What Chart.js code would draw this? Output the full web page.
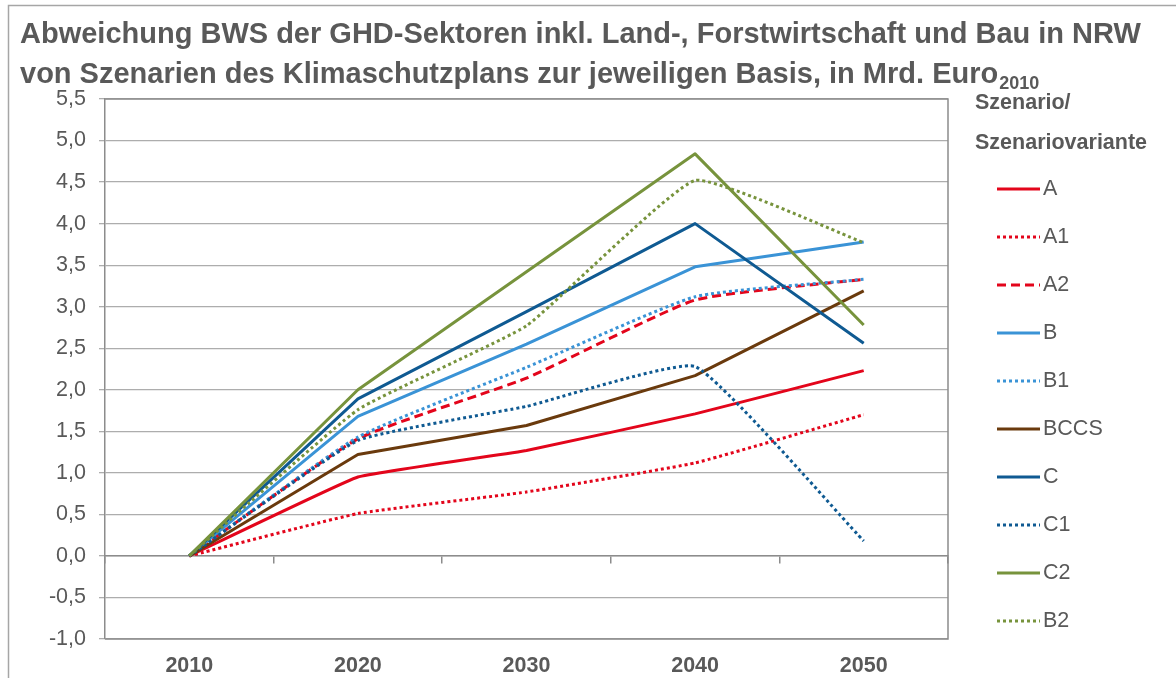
<!DOCTYPE html>
<html>
<head>
<meta charset="utf-8">
<script src="https://cdn.jsdelivr.net/npm/chart.js@4.4.1/dist/chart.umd.min.js"></script>
<style>
  html, body { margin: 0; padding: 0; background: #ffffff; }
  #wrap { width: 1176px; height: 678px; position: relative; }
  canvas { display: block; }
</style>
</head>
<body>
<div id="wrap"><canvas id="chart" width="1176" height="678"></canvas></div>
<script>
// ---- data -------------------------------------------------------------
const years = ['2010', '2020', '2030', '2040', '2050'];
const seriesNames = ['A', 'A1', 'A2', 'B', 'B1', 'BCCS', 'C', 'C1', 'C2', 'B2'];

const valuesA    = [0, 0.95, 1.27, 1.71, 2.23];
const valuesA1   = [0, 0.51, 0.77, 1.12, 1.70];
const valuesA2   = [0, 1.41, 2.14, 3.08, 3.33];
const valuesB    = [0, 1.68, 2.55, 3.48, 3.78];
const valuesB1   = [0, 1.43, 2.27, 3.12, 3.33];
const valuesBCCS = [0, 1.22, 1.57, 2.17, 3.19];
const valuesC    = [0, 1.89, 2.94, 4.00, 2.56];
const valuesC1   = [0, 1.39, 1.80, 2.28, 0.18];
const valuesC2   = [0, 2.00, 3.42, 4.84, 2.78];
const valuesB2   = [0, 1.76, 2.77, 4.52, 3.77];

const seriesValues = [valuesA, valuesA1, valuesA2, valuesB, valuesB1,
                      valuesBCCS, valuesC, valuesC1, valuesC2, valuesB2];

const yMin = -1.0;
const yMax = 5.5;
const yStep = 0.5;

const titleLine1 = 'Abweichung BWS der GHD-Sektoren inkl. Land-, Forstwirtschaft und Bau in NRW';
const titleLine2 = 'von Szenarien des Klimaschutzplans zur jeweiligen Basis, in Mrd. Euro';
const titleSub = '2010';
const legendHeading = ['Szenario/', 'Szenariovariante'];

// ---- styles -----------------------------------------------------------
const RED = '#E3051B';
const LIGHT_BLUE = '#3A93D6';
const BROWN = '#6A3A0D';
const DARK_BLUE = '#0F5A92';
const GREEN = '#77933C';
const TEXT = '#595959';
const FONT = '"Liberation Sans", Arial, Helvetica, sans-serif';

const SOLID = [];
const DOTTED = [3, 3];
const DASHED = [9, 5];

const seriesStyles = [
  { color: RED,        dash: SOLID,  tension: 0.08 },
  { color: RED,        dash: DOTTED, tension: 0.12 },
  { color: RED,        dash: DASHED, tension: 0.15 },
  { color: LIGHT_BLUE, dash: SOLID,  tension: 0 },
  { color: LIGHT_BLUE, dash: DOTTED, tension: 0.15 },
  { color: BROWN,      dash: SOLID,  tension: 0 },
  { color: DARK_BLUE,  dash: SOLID,  tension: 0 },
  { color: DARK_BLUE,  dash: DOTTED, tension: 0.12 },
  { color: GREEN,      dash: SOLID,  tension: 0 },
  { color: GREEN,      dash: DOTTED, tension: 0.12 }
];

const datasets = seriesNames.map((name, i) => ({
  label: name,
  data: seriesValues[i],
  borderColor: seriesStyles[i].color,
  backgroundColor: seriesStyles[i].color,
  borderDash: seriesStyles[i].dash,
  borderWidth: 3,
  borderCapStyle: 'butt',
  borderJoinStyle: 'round',
  tension: seriesStyles[i].tension,
  pointRadius: 0,
  pointHoverRadius: 0,
  fill: false,
  // later series are painted above earlier ones
  order: seriesNames.length - i
}));

const commaFormat = v => v.toFixed(1).replace('.', ',');

// ---- title, legend and frames ----------------------------------------
const decorations = {
  id: 'decorations',
  beforeDraw(chart) {
    const ctx = chart.ctx;
    ctx.save();
    ctx.fillStyle = '#ffffff';
    ctx.fillRect(0, 0, chart.width, chart.height);
    ctx.restore();
  },
  afterDraw(chart) {
    const ctx = chart.ctx;
    const area = chart.chartArea;
    ctx.save();

    // outer frame of the whole figure
    ctx.strokeStyle = '#A6A6A6';
    ctx.lineWidth = 1.5;
    ctx.strokeRect(8.5, 5.5, chart.width + 20, chart.height + 20);

    // plot frame (top and right edge)
    ctx.strokeStyle = '#8C8C8C';
    ctx.lineWidth = 1.5;
    ctx.beginPath();
    ctx.moveTo(area.left, area.top);
    ctx.lineTo(area.right, area.top);
    ctx.lineTo(area.right, area.bottom);
    ctx.lineTo(area.left, area.bottom);
    ctx.stroke();

    // title
    ctx.fillStyle = TEXT;
    ctx.textBaseline = 'alphabetic';
    ctx.textAlign = 'left';
    ctx.font = 'bold 29px ' + FONT;
    ctx.fillText(titleLine1, 20, 43);
    ctx.fillText(titleLine2, 20, 83);
    const w2 = ctx.measureText(titleLine2).width;
    ctx.font = 'bold 18px ' + FONT;
    ctx.fillText(titleSub, 20 + w2 + 1, 89);

    // legend heading
    ctx.font = 'bold 21.5px ' + FONT;
    ctx.textBaseline = 'middle';
    ctx.fillText(legendHeading[0], 975, 103);
    ctx.fillText(legendHeading[1], 975, 143);

    // legend entries
    ctx.font = '21.5px ' + FONT;
    chart.data.datasets.forEach((ds, i) => {
      const y = 189 + i * 48;
      ctx.save();
      ctx.strokeStyle = ds.borderColor;
      ctx.lineWidth = ds.borderWidth;
      ctx.lineCap = 'butt';
      ctx.setLineDash(ds.borderDash || []);
      ctx.beginPath();
      ctx.moveTo(997, y);
      ctx.lineTo(1040, y);
      ctx.stroke();
      ctx.restore();
      ctx.fillStyle = TEXT;
      ctx.fillText(ds.label, 1043, y);
    });

    ctx.restore();
  }
};

new Chart(document.getElementById('chart'), {
  type: 'line',
  data: { labels: years, datasets: datasets },
  options: {
    responsive: false,
    animation: false,
    events: [],
    layout: { padding: { left: 0, right: 228, top: 99, bottom: 0 } },
    plugins: {
      legend: { display: false },
      title: { display: false },
      tooltip: { enabled: false }
    },
    scales: {
      x: {
        type: 'category',
        position: { y: 0 },
        offset: true,
        grid: {
          offset: true,
          drawOnChartArea: false,
          drawTicks: true,
          tickLength: 7,
          color: '#8C8C8C',
          lineWidth: 1.5
        },
        border: { display: true, color: '#8C8C8C', width: 1.5 },
        ticks: { display: false }
      },
      xLabels: {
        type: 'category',
        axis: 'x',
        position: 'bottom',
        offset: true,
        grid: { display: false, drawTicks: false },
        border: { display: false },
        ticks: {
          color: TEXT,
          padding: 14,
          font: { family: FONT, size: 21.5, weight: 'bold' },
          maxRotation: 0,
          autoSkip: false
        },
        afterFit(scale) { scale.height = 39; }
      },
      y: {
        type: 'linear',
        position: 'left',
        min: yMin,
        max: yMax,
        grid: {
          color: '#ADADAD',
          lineWidth: 1.3,
          drawTicks: true,
          tickLength: 6
        },
        border: { display: true, color: '#8C8C8C', width: 1.5 },
        ticks: {
          stepSize: yStep,
          color: TEXT,
          padding: 13,
          font: { family: FONT, size: 21.5 },
          callback: v => commaFormat(v)
        },
        afterFit(scale) { scale.width = 105; }
      }
    }
  },
  plugins: [decorations]
});
</script>
</body>
</html>
